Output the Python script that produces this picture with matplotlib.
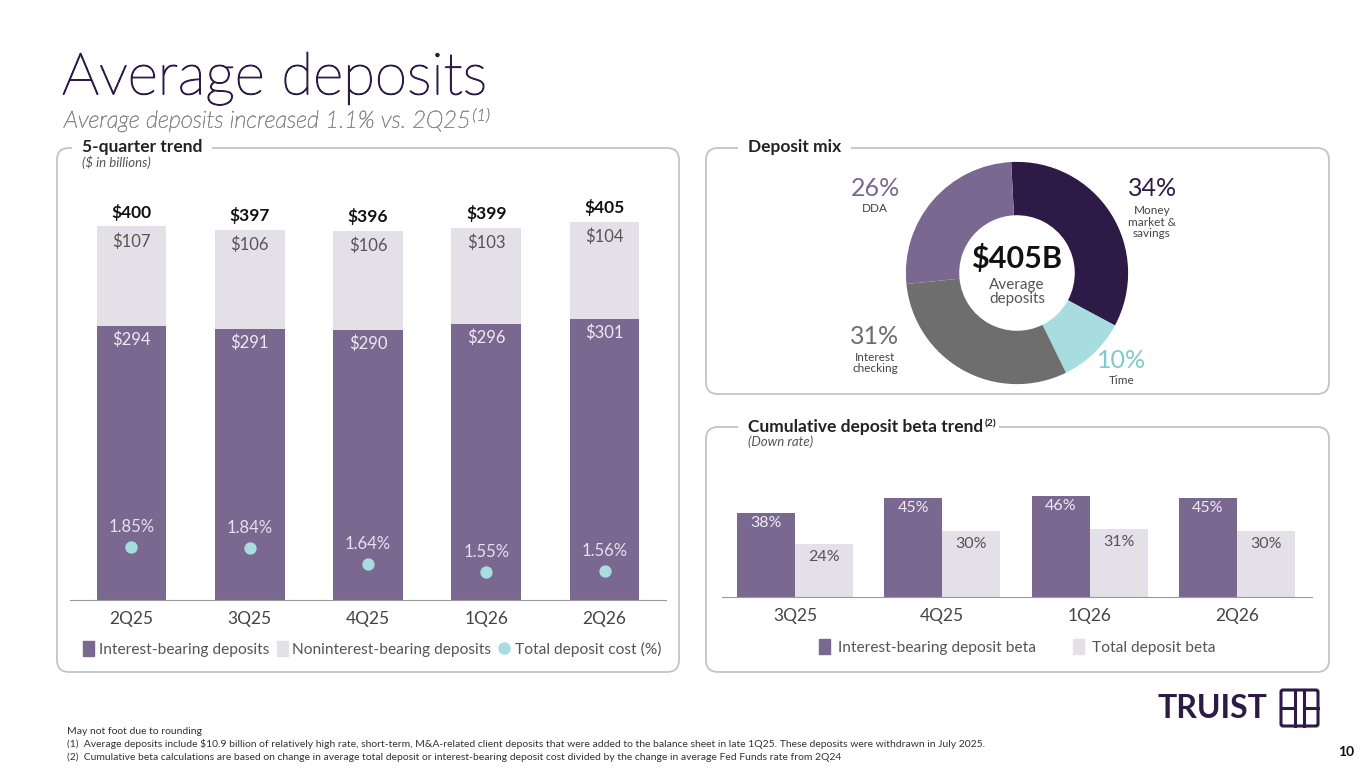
import numpy as np
import matplotlib
matplotlib.use("Agg")
import matplotlib.pyplot as plt
import matplotlib.patheffects as pe
from matplotlib.patches import FancyBboxPatch, Patch
from matplotlib.lines import Line2D

plt.rcParams['font.family'] = ['Lato', 'DejaVu Sans']

# ---- data ----
quarters = ['2Q25', '3Q25', '4Q25', '1Q26', '2Q26']
interest_bearing = [294, 291, 290, 296, 301]
noninterest_bearing = [107, 106, 106, 103, 104]
totals = [400, 397, 396, 399, 405]
deposit_cost = [1.85, 1.84, 1.64, 1.55, 1.56]

mix_labels = ['Money\nmarket &\nsavings', 'Time', 'Interest\nchecking', 'DDA']
mix_values = [34, 10, 31, 26]

beta_quarters = ['3Q25', '4Q25', '1Q26', '2Q26']
ib_beta = [38, 45, 46, 45]
total_beta = [24, 30, 31, 30]

# ---- colours ----
PURPLE = '#7B6891'
LIGHT = '#E3E0E8'
TEAL = '#A8DDDF'
DARK = '#2E1A47'
GREY = '#6E6E6E'
EDGE = '#C4C4C4'

W, H = 1365, 768
fig = plt.figure(figsize=(W / 100, H / 100), dpi=100)


def rect(x0, y0, x1, y1):
    return [x0 / W, 1 - y1 / H, (x1 - x0) / W, (y1 - y0) / H]


# background axes in pixel coordinates
bg = fig.add_axes([0, 0, 1, 1])
bg.set_xlim(0, W)
bg.set_ylim(H, 0)
bg.axis('off')

for x0, y0, x1, y1 in [(57, 148, 679, 672), (706, 148, 1329, 394), (706, 427, 1329, 672)]:
    bg.add_patch(FancyBboxPatch((x0, y0), x1 - x0, y1 - y0,
                                boxstyle='round,pad=0,rounding_size=12',
                                fc='none', ec=EDGE, lw=1.3, zorder=1))

box = dict(fc='white', ec='none', pad=7)
bg.text(62, 78, 'Average deposits', fontsize=42, fontweight='light', color=DARK, va='center',
        path_effects=[pe.withStroke(linewidth=0.9, foreground=DARK)])
sub = bg.text(64, 121, 'Average deposits increased 1.1% vs. 2Q25', fontsize=17,
              style='italic', fontweight='light', color='#8C8C8C', va='center', zorder=5,
              path_effects=[pe.withStroke(linewidth=0.5, foreground='#8C8C8C')])
bg.annotate('(1)', xy=(1, 1), xycoords=sub, xytext=(1, 2), textcoords='offset points',
            fontsize=12, style='italic', fontweight='light', color='#8C8C8C',
            ha='left', va='top', zorder=5,
            path_effects=[pe.withStroke(linewidth=0.4, foreground='#8C8C8C')])

bg.text(82, 147, '5-quarter trend', fontsize=12.5, fontweight='bold', color='#222222',
        va='center', bbox=box, zorder=3)
bg.text(82, 162, '($ in billions)', fontsize=9.5, style='italic', color='#555555', va='center')
bg.text(748, 147, 'Deposit mix', fontsize=12.5, fontweight='bold', color='#222222',
        va='center', bbox=box, zorder=3)
beta_title = bg.text(748, 427, 'Cumulative deposit beta trend', fontsize=12.5, fontweight='bold',
                     color='#222222', va='center', bbox=box, zorder=3)
bg.annotate('(2)', xy=(1, 1), xycoords=beta_title, xytext=(1, 0), textcoords='offset points',
            fontsize=7.5, fontweight='bold', color='#222222', ha='left', va='top',
            bbox=dict(fc='white', ec='none', pad=2), zorder=3)
bg.text(748, 442, '(Down rate)', fontsize=9.5, style='italic', color='#555555', va='center')

# ---- 5-quarter trend ----
ax = fig.add_axes(rect(70, 200, 666, 600))
x = np.arange(len(quarters))
bw = 0.59
ax.bar(x, interest_bearing, bw, color=PURPLE, zorder=2)
ax.bar(x, noninterest_bearing, bw, bottom=interest_bearing, color=LIGHT, zorder=2)
ax.set_xlim(-0.52, 4.52)
ax.set_ylim(0, 429)
for i in range(len(quarters)):
    ax.annotate(f'${interest_bearing[i]}', (x[i], interest_bearing[i]), xytext=(0, -10),
                textcoords='offset points', ha='center', va='center', fontsize=12,
                color='#EEEAF2')
    ax.annotate(f'${noninterest_bearing[i]}', (x[i], totals[i]), xytext=(0, -10.5),
                textcoords='offset points', ha='center', va='center', fontsize=12,
                color='#555555')
    ax.annotate(f'${totals[i]}', (x[i], totals[i]), xytext=(0, 10.5),
                textcoords='offset points', ha='center', va='center', fontsize=12.5,
                fontweight='bold', color='#111111')
ax.set_xticks(x)
ax.set_xticklabels(quarters, fontsize=12.5, color='#444444')
ax.tick_params(axis='x', length=0, pad=8)
ax.set_yticks([])
for s in ['top', 'left', 'right']:
    ax.spines[s].set_visible(False)
ax.spines['bottom'].set_color('#9A9A9A')
ax.patch.set_alpha(0)

ax2 = ax.twinx()
ax2.scatter(x, deposit_cost, s=62, color=TEAL, zorder=4)
ax2.set_ylim(1.211, 6.03)
for i in range(len(quarters)):
    ax2.annotate(f'{deposit_cost[i]:.2f}%', (x[i], deposit_cost[i]), xytext=(0, 14.5),
                 textcoords='offset points', ha='center', va='center', fontsize=12,
                 color='#E6E1EC')
ax2.axis('off')

h1 = [Patch(color=PURPLE), Patch(color=LIGHT),
      Line2D([], [], marker='o', ls='none', color=TEAL, markersize=8)]
fig.legend(h1, ['Interest-bearing deposits', 'Noninterest-bearing deposits', 'Total deposit cost (%)'],
           loc='center', bbox_to_anchor=(372 / W, 1 - 649 / H), ncol=3, frameon=False,
           fontsize=11.2, handlelength=0.7, handleheight=1.1, handletextpad=0.3,
           columnspacing=0.5, labelcolor='#555555')

# ---- deposit mix donut ----
pax = fig.add_axes(rect(1017 - 120, 273 - 120, 1017 + 120, 273 + 120))
pax.pie(mix_values, colors=[DARK, TEAL, GREY, PURPLE], startangle=93, counterclock=False,
        radius=1, wedgeprops=dict(width=0.48, edgecolor='none'))
pax.set_xlim(-1.08, 1.08)
pax.set_ylim(-1.08, 1.08)
pax.text(0, 0.13, '$405B', fontsize=22, fontweight='bold', ha='center', va='center', color='#111111')
pax.text(0, -0.17, 'Average\ndeposits', fontsize=11, ha='center', va='center', color='#555555',
         linespacing=1.05)

bg.text(1153, 188, f'{mix_values[0]}%', fontsize=18, color=DARK, ha='center', va='center')
bg.text(1152, 222, mix_labels[0], fontsize=8.5, color='#444444', ha='center', va='center',
        linespacing=1.1)
bg.text(1122, 361, f'{mix_values[1]}%', fontsize=18, color='#7CCBCD', ha='center', va='center')
bg.text(1122, 381, mix_labels[1], fontsize=8.5, color='#444444', ha='center', va='center')
bg.text(875, 337, f'{mix_values[2]}%', fontsize=18, color=GREY, ha='center', va='center')
bg.text(875, 363, mix_labels[2], fontsize=8.5, color='#444444', ha='center', va='center',
        linespacing=1.1)
bg.text(875, 188, f'{mix_values[3]}%', fontsize=18, color=PURPLE, ha='center', va='center')
bg.text(875, 208, mix_labels[3], fontsize=8.5, color='#444444', ha='center', va='center')

# ---- beta trend ----
bx = fig.add_axes(rect(722, 460, 1312, 597))
xb = np.arange(len(beta_quarters))
bbw = 0.394
bx.bar(xb - bbw / 2, ib_beta, bbw, color=PURPLE)
bx.bar(xb + bbw / 2, total_beta, bbw, color=LIGHT)
bx.set_xlim(-0.496, 3.51)
bx.set_ylim(0, 62.3)
for i in range(len(beta_quarters)):
    bx.annotate(f'{ib_beta[i]}%', (xb[i] - bbw / 2, ib_beta[i]), xytext=(0, -7),
                textcoords='offset points', ha='center', va='center', fontsize=11.5, color='#EEEAF2')
    bx.annotate(f'{total_beta[i]}%', (xb[i] + bbw / 2, total_beta[i]), xytext=(0, -9.5),
                textcoords='offset points', ha='center', va='center', fontsize=11.5, color='#555555')
bx.set_xticks(xb)
bx.set_xticklabels(beta_quarters, fontsize=12.5, color='#444444')
bx.tick_params(axis='x', length=0, pad=8)
bx.set_yticks([])
for s in ['top', 'left', 'right']:
    bx.spines[s].set_visible(False)
bx.spines['bottom'].set_color('#9A9A9A')
bx.patch.set_alpha(0)

h2 = [Patch(color=PURPLE), Patch(color=LIGHT)]
fig.legend(h2, ['Interest-bearing deposit beta', 'Total deposit beta'],
           loc='center', bbox_to_anchor=(1017 / W, 1 - 647 / H), ncol=2, frameon=False,
           fontsize=11.2, handlelength=0.7, handleheight=1.1, handletextpad=0.5,
           columnspacing=2.4, labelcolor='#555555')

# ---- footer ----
foot = ['May not foot due to rounding',
        '(1)  Average deposits include $10.9 billion of relatively high rate, short-term, M&A-related client deposits '
        'that were added to the balance sheet in late 1Q25. These deposits were withdrawn in July 2025.',
        '(2)  Cumulative beta calculations are based on change in average total deposit or interest-bearing deposit '
        'cost divided by the change in average Fed Funds rate from 2Q24']
for k, line in enumerate(foot):
    bg.text(67, 731 + 13 * k, line, fontsize=7.45, color='#333333', va='center')
bg.text(1346, 752, '10', fontsize=10, fontweight='bold', color='#111111', ha='center', va='center')

# logo
bg.text(1158, 708, 'TRUIST', fontsize=23, fontweight='bold', color=DARK, va='center')
bg.add_patch(FancyBboxPatch((1281, 690), 37, 36, boxstyle='round,pad=0,rounding_size=2',
                            fc='none', ec=DARK, lw=2.2))
bg.plot([1295, 1295], [690, 726], color=DARK, lw=2.2)
bg.plot([1304, 1304], [690, 726], color=DARK, lw=2.2)
bg.plot([1281, 1295], [708, 708], color=DARK, lw=2.2)
bg.plot([1304, 1318], [708, 708], color=DARK, lw=2.2)

fig.savefig('out.png', dpi=100)
